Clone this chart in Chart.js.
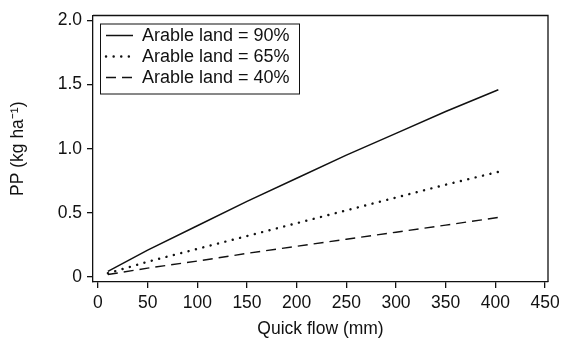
<!DOCTYPE html>
<html>
<head>
<meta charset="utf-8">
<script src="https://cdn.jsdelivr.net/npm/chart.js@4.4.0/dist/chart.umd.min.js"></script>
<style>
  html, body { margin: 0; padding: 0; background: #fff; }
  #wrap { width: 571px; height: 350px; }
</style>
</head>
<body>
<div id="wrap"><canvas id="pp-chart" width="571" height="350"></canvas></div>
<script>
// Data
const quickFlow = [10, 50, 100, 150, 200, 250, 300, 350, 403];
const arable90 = [0.045, 0.21, 0.40, 0.59, 0.77, 0.95, 1.12, 1.29, 1.46];
const arable65 = [0.03, 0.12, 0.22, 0.32, 0.42, 0.52, 0.62, 0.72, 0.82];
const arable40 = [0.02, 0.07, 0.125, 0.185, 0.24, 0.295, 0.35, 0.405, 0.465];
const seriesLabels = ["Arable land = 90%", "Arable land = 65%", "Arable land = 40%"];
const xTicks = [0, 50, 100, 150, 200, 250, 300, 350, 400, 450];
const yTicks = [0, 0.5, 1.0, 1.5, 2.0];

const FONT = "'Liberation Sans', Arial, Helvetica, sans-serif";
const INK = "#111";
const FS = 17.5;

function pairs(xs, ys) {
  return xs.map((x, i) => ({ x: x, y: ys[i] }));
}

// box around plot + legend inside
const frameAndLegend = {
  id: "frameAndLegend",
  afterDraw(chart) {
    const ctx = chart.ctx;
    const { left, right, top, bottom } = chart.chartArea;
    ctx.save();
    ctx.strokeStyle = INK;
    ctx.lineWidth = 1.3;
    ctx.beginPath();
    ctx.moveTo(left, top);
    ctx.lineTo(right, top);
    ctx.lineTo(right, bottom);
    ctx.stroke();

    // legend
    const lx = left + 7, ly = top + 8, lw = 199, lh = 70;
    ctx.lineWidth = 1;
    ctx.strokeRect(lx + 0.5, ly + 0.5, lw, lh);
    ctx.font = "18px " + FONT;
    ctx.fillStyle = INK;
    ctx.textBaseline = "middle";
    chart.data.datasets.forEach((ds, i) => {
      const y = ly + 12 + i * 21;
      ctx.beginPath();
      ctx.setLineDash(ds.borderDash || []);
      ctx.lineWidth = ds.borderWidth;
      ctx.lineCap = ds.borderCapStyle || "butt";
      ctx.moveTo(lx + 6, y);
      ctx.lineTo(lx + 33, y);
      ctx.stroke();
      ctx.setLineDash([]);
      ctx.fillText(ds.label, lx + 42, y + 1);
    });
    ctx.restore();
  },
};

new Chart(document.getElementById("pp-chart"), {
  type: "scatter",
  data: {
    datasets: [
      {
        label: seriesLabels[0],
        data: pairs(quickFlow, arable90),
        showLine: true,
        borderColor: INK,
        borderWidth: 1.5,
        pointRadius: 0,
      },
      {
        label: seriesLabels[1],
        data: pairs(quickFlow, arable65),
        showLine: true,
        borderColor: INK,
        borderWidth: 2.4,
        borderDash: [0.1, 7.5],
        borderCapStyle: "round",
        pointRadius: 0,
      },
      {
        label: seriesLabels[2],
        data: pairs(quickFlow, arable40),
        showLine: true,
        borderColor: INK,
        borderWidth: 1.4,
        borderDash: [10, 6],
        pointRadius: 0,
      },
    ],
  },
  options: {
    responsive: false,
    animation: false,
    layout: { padding: { left: 8, right: 23, top: 10, bottom: 10 } },
    plugins: {
      legend: { display: false },
      tooltip: { enabled: false },
    },
    scales: {
      x: {
        type: "linear",
        min: -5,
        max: 453,
        afterBuildTicks: (s) => { s.ticks = xTicks.map((v) => ({ value: v })); },
        afterFit: (s) => { s.height = 58; },
        grid: { drawOnChartArea: false, drawTicks: true, tickLength: 6, color: INK, lineWidth: 1.3 },
        border: { display: true, color: INK, width: 1.3 },
        ticks: { color: INK, padding: 5, font: { family: FONT, size: FS }, maxRotation: 0 },
        title: {
          display: true,
          text: "Quick flow (mm)",
          color: INK,
          padding: { top: 0, bottom: 0 },
          font: { family: FONT, size: FS },
        },
      },
      y: {
        type: "linear",
        min: -0.038,
        max: 2.038,
        afterBuildTicks: (s) => { s.ticks = yTicks.map((v) => ({ value: v })); },
        afterFit: (s) => { s.width = 85; },
        grid: { drawOnChartArea: false, drawTicks: true, tickLength: 6, color: INK, lineWidth: 1.3 },
        border: { display: true, color: INK, width: 1.3 },
        ticks: {
          color: INK,
          padding: 5,
          font: { family: FONT, size: FS },
          callback: (v) => (v === 0 ? "0" : v.toFixed(1)),
        },
        title: {
          display: true,
          text: "PP (kg ha\u207B\u00B9)",
          color: INK,
          padding: { top: 0, bottom: 0 },
          font: { family: FONT, size: FS },
        },
      },
    },
  },
  plugins: [frameAndLegend],
});
</script>
</body>
</html>
